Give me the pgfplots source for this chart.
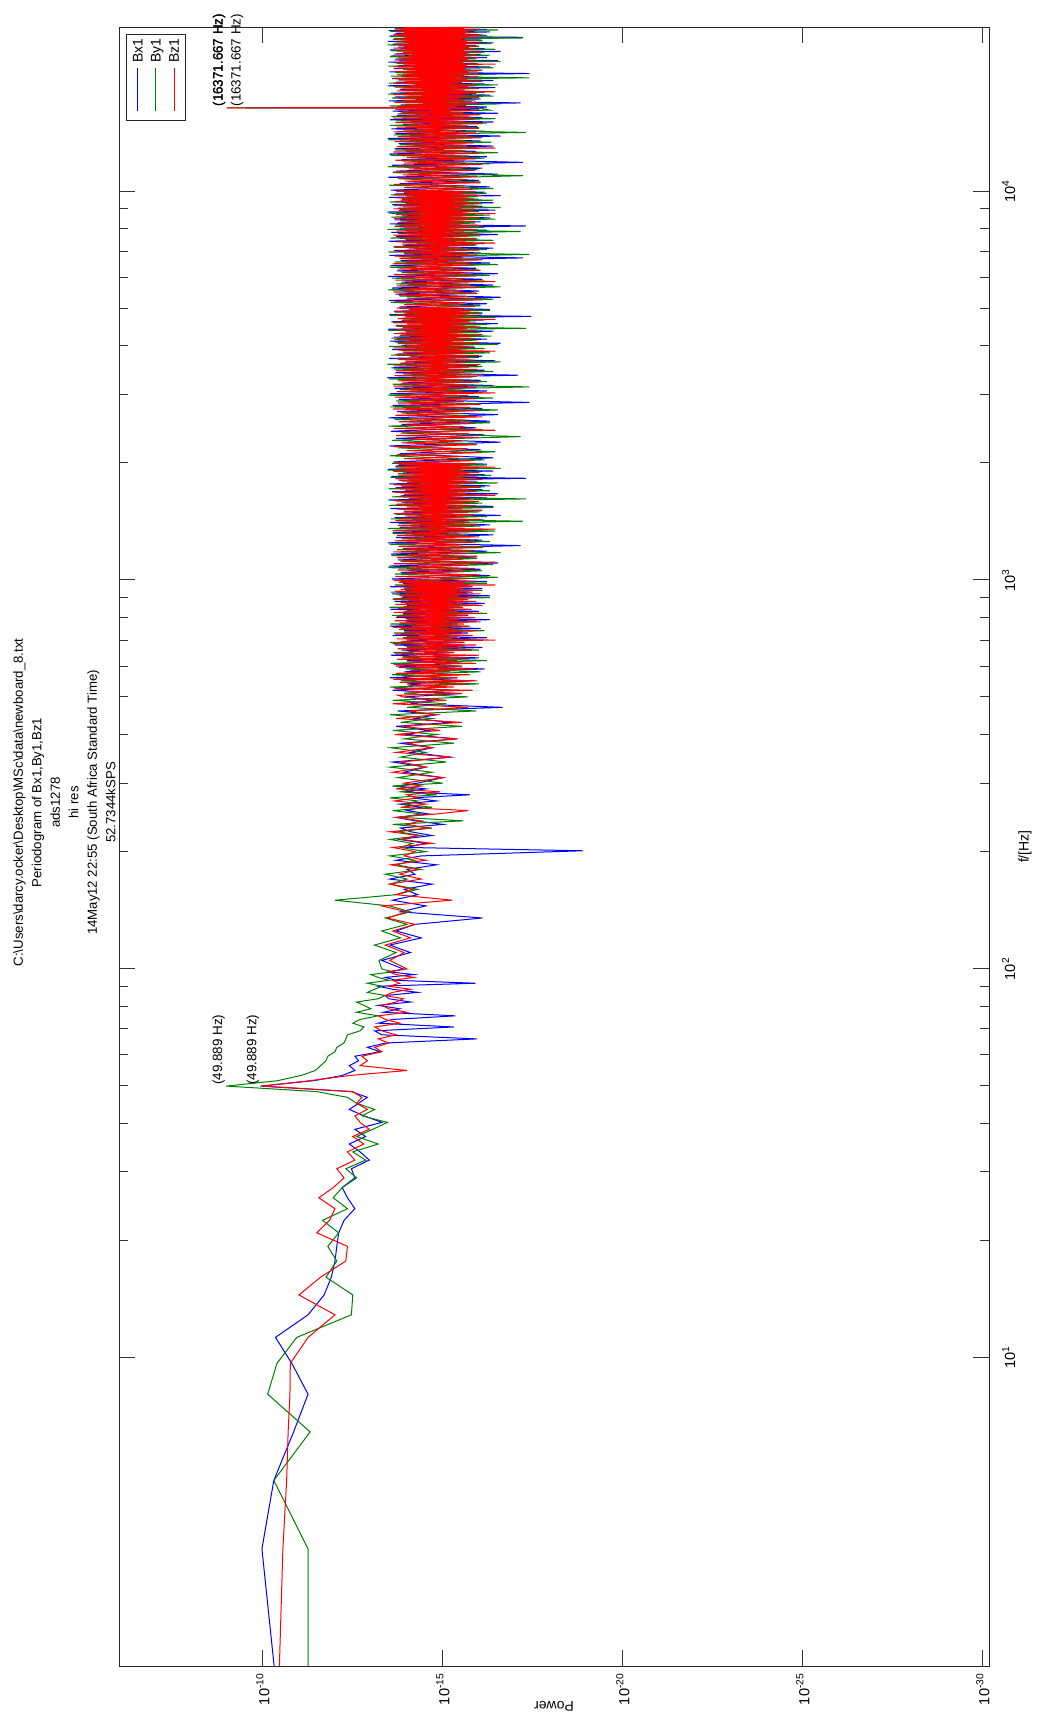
\documentclass[border=0pt]{standalone}
\usepackage{fontspec}
\setmainfont{Liberation Sans}
\usepackage{pgfplots}
\pgfplotsset{compat=1.18}
\usepackage{pgfplotstable}

\definecolor{mblue}{rgb}{0,0,1}
\definecolor{mgreen}{rgb}{0,0.5,0}
\definecolor{mred}{rgb}{1,0,0}

% ---------------- Bx1 ----------------
\pgfplotstableread{
f P
1.609 4.9e-11
3.219 1.07e-10
4.828 5.0e-11
6.437 1.41e-11
8.047 5.6e-12
9.656 1.58e-11
11.265 4.5e-11
12.875 5.6e-12
14.484 2.0e-12
16.093 1.26e-12
17.703 1.0e-12
19.312 8.9e-13
20.921 7.9e-13
22.530 5.6e-13
24.140 2.8e-13
25.749 4.5e-13
27.358 6.3e-13
28.968 2.8e-13
30.577 3.5e-13
32.186 1.12e-13
33.796 2.0e-13
35.405 4.0e-13
37.014 1.41e-13
38.624 2.8e-13
40.233 5.0e-14
41.842 1.58e-13
43.452 4.0e-13
45.061 2.2e-13
46.670 1.26e-13
48.280 3.5e-13
49.889 1.17e-10
51.498 4.0e-12
53.108 6.3e-13
54.717 2.8e-13
56.326 4.0e-13
57.936 2.2e-13
59.545 2.8e-13
61.154 5.6e-14
62.764 1.26e-13
64.373 4.0e-14
65.982 1.12e-16
67.591 5.0e-14
69.201 7.9e-14
70.810 5.0e-16
72.419 6.3e-14
74.029 2.5e-14
75.638 4.5e-16
77.247 4.5e-14
78.857 1.58e-14
80.466 6.3e-14
82.075 7.9e-15
83.685 3.2e-14
85.294 4.0e-14
86.903 5.0e-15
88.513 2.5e-14
90.122 6.3e-14
91.731 1.26e-16
93.341 2.0e-14
94.950 4.0e-14
96.559 6.3e-15
98.169 3.2e-14
99.778 1.26e-14
105 5e-14
110 8e-15
115 3e-14
120 4e-15
125 2e-14
130 6e-15
135 8e-17
140 1.5e-14
145 3e-15
150 2.5e-14
155 5e-15
160 1.2e-14
165 2e-15
170 3e-14
175 6e-15
180 1e-14
185 1.5e-15
190 2e-14
195 4e-15
201 1.3e-19
205 1e-14
210 3e-15
215 1.6e-14
220 2e-15
225 8e-15
230 1.5e-14
235 1e-15
240 6e-15
245 2e-14
250 2.5e-15
255 1e-14
260 4e-15
265 1.6e-14
270 1.5e-15
275 7e-15
280 1.8e-16
285 1.2e-14
290 3e-15
295 2e-14
300 5e-15
310 1e-15
320 1.2e-14
330 3e-15
340 2.5e-14
350 6e-16
360 8e-15
370 2e-15
380 1.5e-14
390 4e-16
400 1e-14
410 2.5e-15
420 2e-14
430 6e-16
440 6e-15
450 1.5e-15
460 1.8e-14
470 2.2e-17
480 8e-15
490 2e-15
500 1.2e-14
510 3e-16
520 2.5e-14
530 8e-16
540 1e-14
550 1.5e-16
560 3e-14
570 4e-16
580 1.2e-14
590 7e-17
600 2e-14
610 3e-16
620 1e-14
630 1e-16
640 2.8e-14
650 5e-16
660 1.4e-14
670 8e-17
680 2.2e-14
690 3e-16
700 1e-14
710 6e-17
720 2.5e-14
730 2e-16
740 1.2e-14
750 9e-17
760 3e-14
770 4e-16
780 1.1e-14
790 5e-17
800 2e-14
810 2e-16
820 1.3e-14
830 1e-16
840 2.9e-14
850 3e-16
860 1e-14
870 7e-17
880 2.2e-14
890 2.5e-16
900 1.4e-14
910 5e-17
920 2.6e-14
930 1.5e-16
940 1.1e-14
950 8e-17
960 3e-14
970 2e-16
980 1.3e-14
990 6e-17
1005 2.6e-14
1025 5e-17
1045 1.5e-14
1065 9e-17
1085 3.2e-14
1105 3e-17
1125 1.8e-14
1145 1.2e-16
1165 2.8e-14
1185 6e-17
1205 1.3e-14
1225 7e-18
1245 3.4e-14
1265 8e-17
1285 2e-14
1305 4e-17
1325 2.5e-14
1345 1e-16
1365 1.6e-14
1385 5e-17
1405 3e-14
1425 7e-17
1445 2.2e-14
1465 2.5e-17
1485 1.4e-14
1505 9e-17
1525 2.9e-14
1545 4e-17
1565 1.9e-14
1585 1.3e-16
1605 3.3e-14
1625 6e-17
1645 1.5e-14
1665 3e-17
1685 2.6e-14
1705 8e-17
1725 2.1e-14
1745 5e-17
1765 3.1e-14
1785 1.1e-16
1805 1.7e-14
1825 5e-18
1845 2.7e-14
1865 7e-17
1885 1.3e-14
1905 4e-17
1925 3.4e-14
1945 1e-16
1965 2e-14
1985 6e-17
2010 2.4e-14
2060 4e-17
2110 1.6e-14
2160 9e-17
2210 3.1e-14
2260 2.5e-17
2310 2e-14
2360 7e-17
2410 2.8e-14
2460 1.2e-16
2510 1.4e-14
2560 5e-17
2610 3.3e-14
2660 3e-17
2710 1.9e-14
2760 8e-17
2810 2.5e-14
2860 4e-18
2910 1.7e-14
2960 1e-16
3010 3e-14
3060 6e-17
3110 2.2e-14
3160 4e-17
3210 1.3e-14
3260 9e-17
3310 3.5e-14
3360 8e-18
3410 2.1e-14
3460 7e-17
3510 2.7e-14
3560 1.1e-16
3610 1.5e-14
3660 3.5e-17
3710 3.2e-14
3760 8e-17
3810 1.8e-14
3860 5e-17
3910 2.6e-14
3960 1.3e-16
4010 1.4e-14
4060 2.5e-17
4110 3e-14
4160 6e-17
4210 2.3e-14
4260 9e-17
4310 1.6e-14
4360 4e-17
4410 3.4e-14
4460 1e-16
4510 2e-14
4560 3e-17
4610 2.7e-14
4660 7e-17
4710 1.3e-14
4760 3.5e-18
4810 3.1e-14
4860 8e-17
4910 2.2e-14
4960 5e-17
5030 1.7e-14
5130 6e-17
5230 3.2e-14
5330 2.5e-17
5430 2.1e-14
5530 1e-16
5630 2.6e-14
5730 4e-17
5830 1.4e-14
5930 8e-17
6030 3.4e-14
6130 3e-17
6230 1.9e-14
6330 1.2e-16
6430 2.9e-14
6530 5e-17
6630 1.5e-14
6730 6e-18
6830 3.1e-14
6930 9e-17
7030 2.3e-14
7130 4e-17
7230 1.3e-14
7330 7e-17
7430 3.3e-14
7530 1.1e-16
7630 2e-14
7730 3e-17
7830 2.7e-14
7930 6e-17
8030 1.6e-14
8130 5e-18
8230 3e-14
8330 9e-17
8430 2.2e-14
8530 5e-17
8630 1.4e-14
8730 1.2e-16
8830 3.5e-14
8930 3.5e-17
9030 1.8e-14
9130 8e-17
9230 2.6e-14
9330 4e-17
9430 1.5e-14
9530 1e-16
9630 3.2e-14
9730 2.5e-17
9830 2.1e-14
9930 7e-17
10050 2.8e-14
10250 5e-17
10450 1.6e-14
10650 1e-16
10850 3.3e-14
11050 3e-17
11250 2e-14
11450 8e-17
11650 2.6e-14
11850 6e-18
12050 1.4e-14
12250 6e-17
12450 3.1e-14
12650 1.2e-16
12850 2.2e-14
13050 4e-17
13250 1.7e-14
13450 9e-17
13650 3.4e-14
13850 2.5e-17
14050 2.1e-14
14250 7e-17
14450 2.7e-14
14650 1.1e-16
14850 1.3e-14
15050 4e-17
15250 3e-14
15450 8e-17
15650 1.9e-14
15850 3e-17
16050 2.5e-14
16250 1e-16
16360 1e-16
16371.667 3.2e-10
16385 1e-16
16450 6e-17
16650 1.5e-14
16850 7e-18
17050 3.2e-14
17250 9e-17
17450 2.2e-14
17650 5e-17
17850 2.8e-14
18050 1.2e-16
18250 1.6e-14
18450 3.5e-17
18650 3.4e-14
18850 7e-17
19050 2e-14
19250 4e-17
19450 2.6e-14
19650 1e-16
19850 1.4e-14
20050 4e-18
20250 3.1e-14
20450 8e-17
20650 2.3e-14
20850 5e-17
21050 1.7e-14
21250 1.1e-16
21450 3.3e-14
21650 3e-17
21850 2.1e-14
22050 6e-17
22250 2.7e-14
22450 9e-17
22650 1.3e-14
22850 2.5e-17
23050 3e-14
23250 7e-17
23450 1.8e-14
23650 1.2e-16
23850 2.5e-14
24050 4e-17
24250 3.4e-14
24450 8e-17
24650 1.5e-14
24850 6e-18
25050 2.9e-14
25250 1e-16
25450 2.1e-14
25650 5e-17
25850 3.2e-14
26050 6e-17
26250 1.7e-14
}\bx

% ---------------- By1 ----------------
\pgfplotstableread{
f P
1.609 5.6e-12
3.219 5.6e-12
4.828 5.0e-11
6.437 4.9e-12
8.047 7.4e-11
9.656 4.1e-11
11.265 1.15e-11
12.875 3.5e-13
14.484 3.2e-13
16.093 1.78e-12
17.703 8.9e-13
19.312 1.58e-12
20.921 7.9e-13
22.530 2.2e-12
24.140 4.5e-13
25.749 1.12e-12
27.358 6.3e-13
28.968 2.5e-13
30.577 5.0e-13
32.186 1.41e-13
33.796 3.2e-13
35.405 6.3e-14
37.014 2.5e-13
38.624 8.9e-14
40.233 3.5e-14
41.842 1.78e-13
43.452 7.9e-14
45.061 2.5e-13
46.670 4.5e-13
48.280 3.2e-12
49.889 1.05e-9
51.498 4.0e-11
53.108 8.9e-12
54.717 3.5e-12
56.326 2.5e-12
57.936 1.78e-12
59.545 1.58e-12
61.154 1.0e-12
62.764 8.9e-13
64.373 5.6e-13
65.982 5.0e-13
67.591 4.5e-13
69.201 2.0e-13
70.810 1.58e-13
72.419 3.2e-13
74.029 2.0e-13
75.638 6.3e-14
77.247 2.5e-13
78.857 1.0e-13
80.466 1.58e-13
82.075 2.5e-13
83.685 6.3e-14
85.294 4.0e-14
86.903 1.26e-13
88.513 7.9e-14
90.122 5.0e-14
91.731 1.26e-13
93.341 3.2e-14
94.950 6.3e-14
96.559 1.0e-13
98.169 2.5e-14
99.778 5.0e-14
105 6e-14
110 2e-14
115 8e-14
120 1.5e-14
125 5e-14
130 1e-14
135 4e-14
140 8e-15
145 3e-14
150 1e-12
155 2e-14
160 5e-15
165 3e-14
170 1e-14
175 4e-14
180 4e-15
185 2e-14
190 6e-15
195 3e-14
200 3e-15
205 1.5e-14
210 7e-15
215 3e-14
220 4e-15
225 1.8e-14
230 2e-15
235 2.5e-14
240 2.7e-16
245 1.5e-14
250 4e-15
255 2.5e-14
260 2e-15
265 1.2e-14
270 5e-15
275 3e-14
280 1.5e-15
285 1.5e-14
290 6e-15
295 2.5e-14
300 1e-15
310 1.8e-14
320 2e-15
330 3e-14
340 8e-16
350 1.5e-14
360 3e-15
370 2.8e-14
380 5e-16
390 1.2e-14
400 1.5e-15
410 2.5e-14
420 3e-16
430 1.5e-14
440 2e-15
450 3e-14
460 1.2e-16
470 1e-14
480 8e-16
490 2.5e-14
500 2e-16
510 1.2e-14
520 6e-16
530 3e-14
540 1e-16
550 1.5e-14
560 4e-16
570 2.6e-14
580 9e-17
590 1.1e-14
600 3e-16
610 2.8e-14
620 6e-17
630 1.4e-14
640 5e-16
650 2.4e-14
660 1e-16
670 1e-14
680 2.5e-16
690 3e-14
700 8e-17
710 1.3e-14
720 3e-16
730 2.3e-14
740 7e-17
750 1.5e-14
760 2e-16
770 2.9e-14
780 1.2e-16
790 1e-14
800 4e-16
810 2.6e-14
820 6e-17
830 1.2e-14
840 2.5e-16
850 3.1e-14
860 9e-17
870 1.1e-14
880 3e-16
890 2.5e-14
900 5e-17
910 1.6e-14
920 2e-16
930 2.8e-14
940 8e-17
950 1.2e-14
960 3.5e-16
970 2.2e-14
980 6e-17
990 1.5e-14
1015 3e-17
1035 2.2e-14
1055 8e-17
1075 3.3e-14
1095 4e-17
1115 1.5e-14
1135 1.1e-16
1155 2.7e-14
1175 2.5e-17
1195 1.9e-14
1215 7e-17
1235 3.1e-14
1255 5e-17
1275 1.4e-14
1295 1.3e-16
1315 2.5e-14
1335 3.5e-17
1355 3.4e-14
1375 9e-17
1395 1.7e-14
1415 6e-18
1435 2.8e-14
1455 6e-17
1475 2.1e-14
1495 1e-16
1515 1.3e-14
1535 4e-17
1555 3.2e-14
1575 8e-17
1595 2e-14
1615 5e-18
1635 2.6e-14
1655 1.2e-16
1675 1.6e-14
1695 5e-17
1715 3.3e-14
1735 7e-17
1755 2.3e-14
1775 3e-17
1795 1.4e-14
1815 1e-16
1835 2.9e-14
1855 4.5e-17
1875 1.8e-14
1895 9e-17
1915 3.5e-14
1935 2.5e-17
1955 2.1e-14
1975 6e-17
1995 2.6e-14
2035 7e-17
2085 3e-14
2135 3.5e-17
2185 1.8e-14
2235 1.1e-16
2285 2.6e-14
2335 7e-18
2385 1.5e-14
2435 8e-17
2485 3.3e-14
2535 5e-17
2585 2.2e-14
2635 1.3e-16
2685 1.4e-14
2735 3e-17
2785 2.9e-14
2835 9e-17
2885 2e-14
2935 4e-17
2985 3.4e-14
3035 1e-16
3085 1.6e-14
3135 4e-18
3185 2.5e-14
3235 6e-17
3285 3.1e-14
3335 1.2e-16
3385 1.3e-14
3435 4e-17
3485 2.3e-14
3535 8e-17
3585 3.5e-14
3635 2.5e-17
3685 1.7e-14
3735 1e-16
3785 2.8e-14
3835 5e-17
3885 1.4e-14
3935 7e-17
3985 3.2e-14
4035 3e-17
4085 2.1e-14
4135 1.1e-16
4185 2.7e-14
4235 4.5e-17
4285 1.5e-14
4335 9e-17
4385 3.3e-14
4435 5e-18
4485 1.9e-14
4535 6e-17
4585 2.5e-14
4635 1.2e-16
4685 1.3e-14
4735 3.5e-17
4785 3e-14
4835 8e-17
4885 2.2e-14
4935 5e-17
4985 1.6e-14
5070 9e-17
5170 2.8e-14
5270 4e-17
5370 1.6e-14
5470 1.2e-16
5570 3.4e-14
5670 2.5e-17
5770 2e-14
5870 7e-17
5970 2.6e-14
6070 5e-17
6170 1.4e-14
6270 1e-16
6370 3.1e-14
6470 3e-17
6570 2.2e-14
6670 8e-17
6770 1.7e-14
6870 4e-18
6970 3.3e-14
7070 6e-17
7170 2.4e-14
7270 1.1e-16
7370 1.3e-14
7470 4e-17
7570 2.9e-14
7670 9e-17
7770 1.8e-14
7870 7e-18
7970 3.5e-14
8070 7e-17
8170 2.1e-14
8270 1.3e-16
8370 1.5e-14
8470 3.5e-17
8570 2.7e-14
8670 5e-17
8770 3.2e-14
8870 1e-16
8970 1.6e-14
9070 2.5e-17
9170 2.3e-14
9270 8e-17
9370 3e-14
9470 4e-17
9570 1.4e-14
9670 1.1e-16
9770 2.8e-14
9870 6e-17
9970 1.9e-14
10150 4e-17
10350 3.2e-14
10550 9e-17
10750 1.7e-14
10950 6e-18
11150 2.5e-14
11350 1.1e-16
11550 3.4e-14
11750 5e-17
11950 1.4e-14
12150 7e-17
12350 2.9e-14
12550 3e-17
12750 2.1e-14
12950 1.2e-16
13150 1.6e-14
13350 4.5e-17
13550 3.3e-14
13750 8e-17
13950 2.3e-14
14150 5e-18
14350 1.3e-14
14550 1e-16
14750 3e-14
14950 6e-17
15150 2e-14
15350 3.5e-17
15550 2.7e-14
15750 9e-17
15950 1.5e-14
16150 5e-17
16360 1e-16
16371.667 1e-9
16385 1e-16
16550 3.1e-14
16750 2.5e-17
16950 1.9e-14
17150 1.2e-16
17350 2.6e-14
17550 4e-17
17750 3.4e-14
17950 7e-17
18150 1.4e-14
18350 1e-16
18550 2.4e-14
18750 3e-17
18950 3.2e-14
19150 8e-17
19350 1.7e-14
19550 4e-18
19750 2.8e-14
19950 6e-17
20150 2.1e-14
20350 1.1e-16
20550 1.3e-14
20750 4e-17
20950 3.3e-14
21150 9e-17
21350 2.2e-14
21550 2.5e-17
21750 1.6e-14
21950 1.2e-16
22150 3e-14
22350 5e-17
22550 2e-14
22750 7e-17
22950 2.7e-14
23150 3.5e-17
23350 1.4e-14
23550 1e-16
23750 3.5e-14
23950 4.5e-17
24150 1.9e-14
24350 8e-17
24550 2.5e-14
24750 6e-18
24950 3.1e-14
25150 6e-17
25350 1.5e-14
25550 1.1e-16
25750 2.9e-14
25950 3e-17
26150 2.2e-14
26350 9e-17
}\by

% ---------------- Bz1 ----------------
\pgfplotstableread{
f P
1.609 3.5e-11
3.219 2.8e-11
4.828 2.2e-11
6.437 2.0e-11
8.047 1.78e-11
9.656 1.74e-11
11.265 5.6e-12
12.875 1.0e-12
14.484 1.0e-11
16.093 2.5e-12
17.703 5.0e-13
19.312 4.5e-13
20.921 3.2e-12
22.530 1.41e-12
24.140 1.0e-12
25.749 2.8e-12
27.358 1.12e-12
28.968 5.6e-13
30.577 8.9e-13
32.186 2.8e-13
33.796 4.5e-13
35.405 1.58e-13
37.014 3.2e-13
38.624 1.12e-13
40.233 2.0e-13
41.842 2.8e-13
43.452 1.26e-13
45.061 2.5e-13
46.670 1.78e-13
48.280 3.2e-13
49.889 1.07e-10
51.498 5.0e-12
53.108 4.0e-13
54.717 1.0e-14
56.326 2.0e-13
57.936 1.26e-13
59.545 1.78e-13
61.154 5.0e-14
62.764 7.9e-14
64.373 3.2e-14
65.982 6.3e-14
67.591 2.0e-14
69.201 5.0e-14
70.810 7.9e-14
72.419 1.58e-14
74.029 4.0e-14
75.638 6.3e-14
77.247 1.0e-14
78.857 3.2e-14
80.466 5.0e-14
82.075 2.0e-14
83.685 1.26e-14
85.294 4.0e-14
86.903 2.5e-14
88.513 7.9e-15
90.122 3.2e-14
91.731 1.58e-14
93.341 2.5e-14
94.950 6.3e-15
96.559 2.0e-14
98.169 3.2e-14
99.778 1.0e-14
105 3e-14
110 1.2e-14
115 4e-14
120 8e-15
125 2.5e-14
130 6e-15
135 3.5e-14
140 1e-14
145 5e-14
150 5.6e-16
155 2e-14
160 7e-15
165 3e-14
170 4e-15
175 1.6e-14
180 5e-15
185 2.8e-14
190 3e-15
195 1.2e-14
200 6e-15
205 2.5e-14
210 2e-15
215 1.4e-14
220 5e-15
225 3e-14
230 2.5e-15
235 1e-14
240 4e-15
245 2e-14
250 1.5e-15
255 2e-16
260 1.5e-14
265 3e-15
270 2.2e-14
275 5e-15
280 1e-14
285 1.2e-15
290 2e-14
295 4e-15
300 1.2e-14
310 1e-15
320 2.5e-14
330 3e-15
340 1.5e-14
350 6e-16
360 2e-14
370 2e-15
380 1e-14
390 4e-16
400 2.2e-14
410 1.2e-15
420 1.4e-14
430 3e-16
440 2e-14
450 1.5e-15
460 9e-15
470 2e-16
480 2.5e-14
490 8e-16
500 1.3e-14
505 1.8e-14
510 3e-16
515 1.1e-14
520 1.5e-16
525 2.2e-14
530 5e-16
535 9e-15
540 2e-16
545 1.6e-14
550 1.1e-16
555 2.4e-14
560 4e-16
565 1.2e-14
570 1.8e-16
575 2e-14
580 6e-16
585 8e-15
590 1.3e-16
595 1.7e-14
600 3e-16
605 2.3e-14
610 1.2e-16
615 1e-14
620 4e-16
625 1.9e-14
630 2e-16
635 1.3e-14
640 1e-16
645 2.2e-14
650 5e-16
655 9e-15
660 1.6e-16
665 1.8e-14
670 3e-16
675 1.1e-14
680 1.2e-16
685 2.5e-14
690 2.5e-16
695 1.4e-14
700 3.5e-17
705 1.9e-14
710 4e-16
715 1e-14
720 1.5e-16
725 2.1e-14
730 3e-16
735 1.2e-14
740 1.1e-16
745 1.7e-14
750 5e-16
755 2.4e-14
760 1.8e-16
765 9e-15
770 2.6e-16
775 1.6e-14
780 9e-17
785 2.2e-14
790 3.5e-16
795 1.1e-14
800 1.3e-16
805 1.9e-14
810 2.2e-16
815 1.3e-14
820 1e-16
825 2.3e-14
830 4e-16
835 1e-14
840 1.6e-16
845 1.8e-14
850 2.8e-16
855 1.2e-14
860 8e-17
865 2.1e-14
870 3e-16
875 1.5e-14
880 1.2e-16
885 9e-15
890 2e-16
895 2.4e-14
900 1.4e-16
905 1.3e-14
910 3.5e-16
915 1.8e-14
920 9e-17
925 1.1e-14
930 2.4e-16
935 2.2e-14
940 1.1e-16
945 1.5e-14
950 3e-16
955 1e-14
960 1.5e-16
965 2e-14
970 3.5e-17
975 1.2e-14
980 2.6e-16
985 1.7e-14
990 1.2e-16
995 2.3e-14
1000 1.4e-14
1010 1.8e-16
1020 2.1e-14
1030 9e-17
1040 1.1e-14
1050 2.6e-16
1060 1.8e-14
1070 1.3e-16
1080 8e-15
1090 2e-16
1100 2.3e-14
1110 3.5e-17
1120 1.3e-14
1130 3e-16
1140 1.9e-14
1150 1.1e-16
1160 1e-14
1170 2.2e-16
1180 2.4e-14
1190 1.5e-16
1200 1.2e-14
1210 8e-17
1220 1.7e-14
1230 2.8e-16
1240 9e-15
1250 1.2e-16
1260 2.2e-14
1270 2e-16
1280 1.4e-14
1290 1e-16
1300 1.9e-14
1310 3.2e-16
1320 1.1e-14
1330 1.4e-16
1340 2.5e-14
1350 3.5e-17
1360 1.3e-14
1370 2.4e-16
1380 1.8e-14
1390 1.1e-16
1400 9e-15
1410 1.9e-16
1420 2.1e-14
1430 9e-17
1440 1.5e-14
1450 2.7e-16
1460 1.1e-14
1470 1.3e-16
1480 2.3e-14
1490 2e-16
1500 1.2e-14
1510 8e-17
1520 1.8e-14
1530 3e-16
1540 1e-14
1550 1.2e-16
1560 2e-14
1570 2.2e-16
1580 1.4e-14
1590 1e-16
1600 2.4e-14
1610 1.7e-16
1620 9e-15
1630 2.9e-16
1640 1.7e-14
1650 3.5e-17
1660 1.2e-14
1670 2.3e-16
1680 2.2e-14
1690 1.2e-16
1700 1.1e-14
1710 1.9e-16
1720 1.9e-14
1730 9e-17
1740 1.4e-14
1750 3.1e-16
1760 2.3e-14
1770 1.4e-16
1780 1e-14
1790 2.1e-16
1800 1.6e-14
1810 8e-17
1820 2.1e-14
1830 2.5e-16
1840 1.2e-14
1850 1.1e-16
1860 1.8e-14
1870 1.8e-16
1880 9e-15
1890 1e-16
1900 2.4e-14
1910 2.7e-16
1920 1.3e-14
1930 1.3e-16
1940 2e-14
1950 3.5e-17
1960 1.1e-14
1970 2.2e-16
1980 1.7e-14
1990 1.2e-16
2000 2.2e-14
2025 1.6e-16
2050 1.2e-14
2075 2.8e-16
2100 1.9e-14
2125 9e-17
2150 1e-14
2175 2.1e-16
2200 2.4e-14
2225 1.2e-16
2250 1.4e-14
2275 3e-16
2300 8e-15
2325 1e-16
2350 2e-14
2375 1.9e-16
2400 1.3e-14
2425 3.5e-17
2450 2.3e-14
2475 2.5e-16
2500 1.1e-14
2525 1.4e-16
2550 1.7e-14
2575 2.2e-16
2600 9e-15
2625 8e-17
2650 2.1e-14
2675 3e-16
2700 1.5e-14
2725 1.1e-16
2750 2.5e-14
2775 1.8e-16
2800 1.2e-14
2825 9e-17
2850 1.8e-14
2875 2.6e-16
2900 1e-14
2925 1.3e-16
2950 2.2e-14
2975 2e-16
3000 1.3e-14
3025 3.5e-17
3050 1.9e-14
3075 2.9e-16
3100 9e-15
3125 1.2e-16
3150 2.4e-14
3175 2.1e-16
3200 1.4e-14
3225 1e-16
3250 1.8e-14
3275 3.2e-16
3300 1.1e-14
3325 1.5e-16
3350 2.2e-14
3375 8e-17
3400 1.2e-14
3425 2.4e-16
3450 2e-14
3475 1.1e-16
3500 1e-14
3525 1.9e-16
3550 2.3e-14
3575 9e-17
3600 1.5e-14
3625 2.7e-16
3650 1.1e-14
3675 1.3e-16
3700 1.9e-14
3725 2e-16
3750 8e-15
3775 1e-16
3800 2.1e-14
3825 2.3e-16
3850 1.3e-14
3875 3.5e-17
3900 1.7e-14
3925 3e-16
3950 2.4e-14
3975 1.4e-16
4000 1e-14
4025 2.2e-16
4050 1.8e-14
4075 1e-16
4100 1.2e-14
4125 2.6e-16
4150 2.2e-14
4175 1.2e-16
4200 9e-15
4225 1.8e-16
4250 1.6e-14
4275 8e-17
4300 2.3e-14
4325 2.9e-16
4350 1.1e-14
4375 1.3e-16
4400 1.9e-14
4425 2.1e-16
4450 1.3e-14
4475 9e-17
4500 2.1e-14
4525 2.5e-16
4550 1e-14
4575 1.2e-16
4600 2.4e-14
4625 1.9e-16
4650 1.4e-14
4675 3.5e-17
4700 1.8e-14
4725 3.1e-16
4750 1.1e-14
4775 1.1e-16
4800 2e-14
4825 2.2e-16
4850 1.2e-14
4875 1e-16
4900 2.3e-14
4925 1.7e-16
4950 9e-15
4975 2.6e-16
5000 1.9e-14
5050 1.3e-16
5100 1.2e-14
5150 2.4e-16
5200 2.2e-14
5250 8e-17
5300 1e-14
5350 2e-16
5400 1.7e-14
5450 1.1e-16
5500 2.4e-14
5550 2.8e-16
5600 1.3e-14
5650 1e-16
5700 1.9e-14
5750 1.8e-16
5800 9e-15
5850 3.5e-17
5900 2.1e-14
5950 2.5e-16
6000 1.4e-14
6050 1.2e-16
6100 2.3e-14
6150 2.1e-16
6200 1.1e-14
6250 9e-17
6300 1.8e-14
6350 3e-16
6400 1.2e-14
6450 1.4e-16
6500 2.5e-14
6550 1.9e-16
6600 1e-14
6650 8e-17
6700 1.6e-14
6750 2.7e-16
6800 2.2e-14
6850 1.1e-16
6900 1.2e-14
6950 2.2e-16
7000 1.9e-14
7050 1e-16
7100 9e-15
7150 3.2e-16
7200 2.3e-14
7250 1.3e-16
7300 1.4e-14
7350 3.5e-17
7400 2e-14
7450 2.3e-16
7500 1.1e-14
7550 1.2e-16
7600 1.7e-14
7650 2e-16
7700 2.4e-14
7750 9e-17
7800 1.3e-14
7850 2.6e-16
7900 1.9e-14
7950 1.1e-16
8000 1e-14
8050 1.8e-16
8100 2.2e-14
8150 8e-17
8200 1.4e-14
8250 2.9e-16
8300 1.8e-14
8350 1.3e-16
8400 1.1e-14
8450 2.1e-16
8500 2.3e-14
8550 1e-16
8600 1.2e-14
8650 2.4e-16
8700 2e-14
8750 3.5e-17
8800 9e-15
8850 1.9e-16
8900 1.7e-14
8950 1.2e-16
9000 2.4e-14
9050 3e-16
9100 1.3e-14
9150 1e-16
9200 1.9e-14
9250 2.2e-16
9300 1.1e-14
9350 9e-17
9400 2.2e-14
9450 2.5e-16
9500 1.4e-14
9550 1.4e-16
9600 1.8e-14
9650 2e-16
9700 1e-14
9750 8e-17
9800 2.3e-14
9850 2.7e-16
9900 1.2e-14
9950 1.2e-16
10000 2e-14
10100 1.5e-16
10200 1.2e-14
10300 2.5e-16
10400 2.3e-14
10500 9e-17
10600 1.1e-14
10700 2.1e-16
10800 1.8e-14
10900 1.1e-16
11000 1.3e-14
11100 3e-16
11200 2.4e-14
11300 1.3e-16
11400 9e-15
11500 2e-16
11600 1.9e-14
11700 8e-17
11800 1.2e-14
11900 2.6e-16
12000 2.1e-14
12100 1.2e-16
12200 1e-14
12300 1.9e-16
12400 1.7e-14
12500 1e-16
12600 2.4e-14
12700 2.8e-16
12800 1.3e-14
12900 3.5e-17
13000 1.9e-14
13100 2.2e-16
13200 1.1e-14
13300 1.4e-16
13400 2.2e-14
13500 2.4e-16
13600 1.4e-14
13700 9e-17
13800 1.8e-14
13900 2e-16
14000 1e-14
14100 1.2e-16
14200 2.3e-14
14300 3.1e-16
14400 1.2e-14
14500 1e-16
14600 1.9e-14
14700 2.1e-16
14800 9e-15
14900 8e-17
15000 2.1e-14
15100 2.5e-16
15200 1.4e-14
15300 1.3e-16
15400 2.4e-14
15500 1.8e-16
15600 1.1e-14
15700 1e-16
15800 1.8e-14
15900 2.7e-16
16000 1.3e-14
16100 1.1e-16
16200 2.1e-14
16300 2e-16
16360 1e-15
16371.667 1e-9
16385 1e-15
16400 1.2e-16
16500 1.9e-14
16600 2.3e-16
16700 1.1e-14
16800 9e-17
16900 2.2e-14
17000 1.6e-16
17100 1.3e-14
17200 2.9e-16
17300 1.8e-14
17400 1e-16
17500 1e-14
17600 2.2e-16
17700 2.4e-14
17800 1.2e-16
17900 1.2e-14
18000 3.5e-17
18100 1.9e-14
18200 2.5e-16
18300 1.4e-14
18400 1.1e-16
18500 2.1e-14
18600 2e-16
18700 9e-15
18800 1.3e-16
18900 2.3e-14
19000 3e-16
19100 1.2e-14
19200 8e-17
19300 1.7e-14
19400 2.1e-16
19500 2.4e-14
19600 1.1e-16
19700 1.1e-14
19800 2.6e-16
19900 1.9e-14
20000 1e-16
20100 1.3e-14
20200 1.9e-16
20300 2.2e-14
20400 9e-17
20500 1e-14
20600 2.4e-16
20700 1.8e-14
20800 1.2e-16
20900 2.4e-14
21000 2.2e-16
21100 1.2e-14
21200 3.5e-17
21300 1.9e-14
21400 2.8e-16
21500 1.1e-14
21600 1.4e-16
21700 2.2e-14
21800 2e-16
21900 1.4e-14
22000 1e-16
22100 1.8e-14
22200 2.5e-16
22300 9e-15
22400 1.2e-16
22500 2.3e-14
22600 2.1e-16
22700 1.3e-14
22800 8e-17
22900 1.9e-14
23000 2.7e-16
23100 1.1e-14
23200 1.3e-16
23300 2.4e-14
23400 1.9e-16
23500 1.2e-14
23600 1e-16
23700 1.7e-14
23800 2.3e-16
23900 2.2e-14
24000 9e-17
24100 1e-14
24200 2.2e-16
24300 1.9e-14
24400 1.2e-16
24500 1.3e-14
24600 3e-16
24700 2.3e-14
24800 1e-16
24900 1.1e-14
25000 2e-16
25100 1.8e-14
25200 8e-17
25300 2.4e-14
25400 2.4e-16
25500 1.2e-14
25600 1.3e-16
25700 2e-14
25800 2.1e-16
25900 1.4e-14
26000 1e-16
26100 2.2e-14
26200 2.6e-16
26300 1.2e-14
26367 1.5e-16
}\bz

\begin{document}
\begin{tikzpicture}[rotate=90, transform shape]
\path[use as bounding box] (-32.5pt,-24.5pt) rectangle (833pt,494.5pt);
\begin{axis}[
  at={(0pt,0pt)}, anchor=south west,
  scale only axis, width=819.35pt, height=435pt,
  xmode=log, ymode=log,
  xmin=1.609, xmax=26367.2,
  ymin=6.76e-31, ymax=1e-6,
  clip=false,
  xtick={10,100,1000,10000},
  xticklabels={10\textsuperscript{1},10\textsuperscript{2},10\textsuperscript{3},10\textsuperscript{4}},
  ytick={1e-30,1e-25,1e-20,1e-15,1e-10},
  yticklabels={10\textsuperscript{-30},10\textsuperscript{-25},10\textsuperscript{-20},10\textsuperscript{-15},10\textsuperscript{-10}},
  yminorticks=false,
  major tick length=8pt, minor tick length=4.5pt,
  every tick/.style={black!80, line width=0.5pt},
  axis line style={black!85, line width=0.5pt},
  tick label style={font=\fontsize{7.3}{8}\selectfont},
  xticklabel style={yshift=-3pt},
  xlabel={f/[Hz]}, ylabel={Power},
  label style={font=\fontsize{7}{8}\selectfont},
  xlabel style={at={(axis description cs:0.5,0)}, anchor=center, yshift=-18pt},
  ylabel style={at={(axis description cs:-0.0244,0.5)}, anchor=center},
  legend style={at={(0.9959,0.992)}, anchor=north east,
    font=\fontsize{7}{8}\selectfont, draw=black!85, line width=0.5pt,
    inner xsep=1pt, inner ysep=2.25pt, row sep=2.25pt, column sep=1.5pt,
    nodes={inner sep=1pt, text depth=0pt}},
  legend image code/.code={\path (0pt,0pt); \draw[#1, line width=0.5pt] (3.5pt,0pt) -- (25pt,0pt);},
]
\addplot[mblue, line width=0.5pt] table[x=f, y=P] {\bx};
\addlegendentry{Bx1}
\addplot[mgreen, line width=0.5pt] table[x=f, y=P] {\by};
\addlegendentry{By1}
\addplot[mred, line width=0.5pt] table[x=f, y=P] {\bz};
\addlegendentry{Bz1}

\node[anchor=south west, inner sep=0.5pt, font=\fontsize{6.7}{8}\selectfont] at (axis cs:49.889,1.05e-9) {(49.889 Hz)};
\node[anchor=south west, inner sep=0.5pt, font=\fontsize{6.7}{8}\selectfont] at (axis cs:49.889,1.17e-10) {(49.889 Hz)};
\node[anchor=south west, inner sep=0.5pt, font=\fontsize{6.7}{8}\selectfont] at (axis cs:16371.667,1e-9) {(16371.667 Hz)};
\node[anchor=south west, inner sep=0.5pt, font=\fontsize{6.7}{8}\selectfont] at (axis cs:16371.667,1.03e-9) {(16371.667 Hz)};
\node[anchor=south west, inner sep=0.5pt, font=\fontsize{6.7}{8}\selectfont] at (axis cs:16371.667,3.2e-10) {(16371.667 Hz)};

\node[anchor=south, inner sep=0pt, yshift=1.5pt, align=center, font=\fontsize{6.6}{9.25}\selectfont]
  at (rel axis cs:0.527,1)
  {C:\textbackslash Users\textbackslash darcy.ocker\textbackslash Desktop\textbackslash MSc\textbackslash data\textbackslash newboard\_8.txt\\
   Periodogram of Bx1,By1,Bz1\\
   ads1278\\
   hi res\\
   14May12 22:55 (South Africa Standard Time)\\
   52.7344kSPS};
\end{axis}
\end{tikzpicture}
\end{document}
